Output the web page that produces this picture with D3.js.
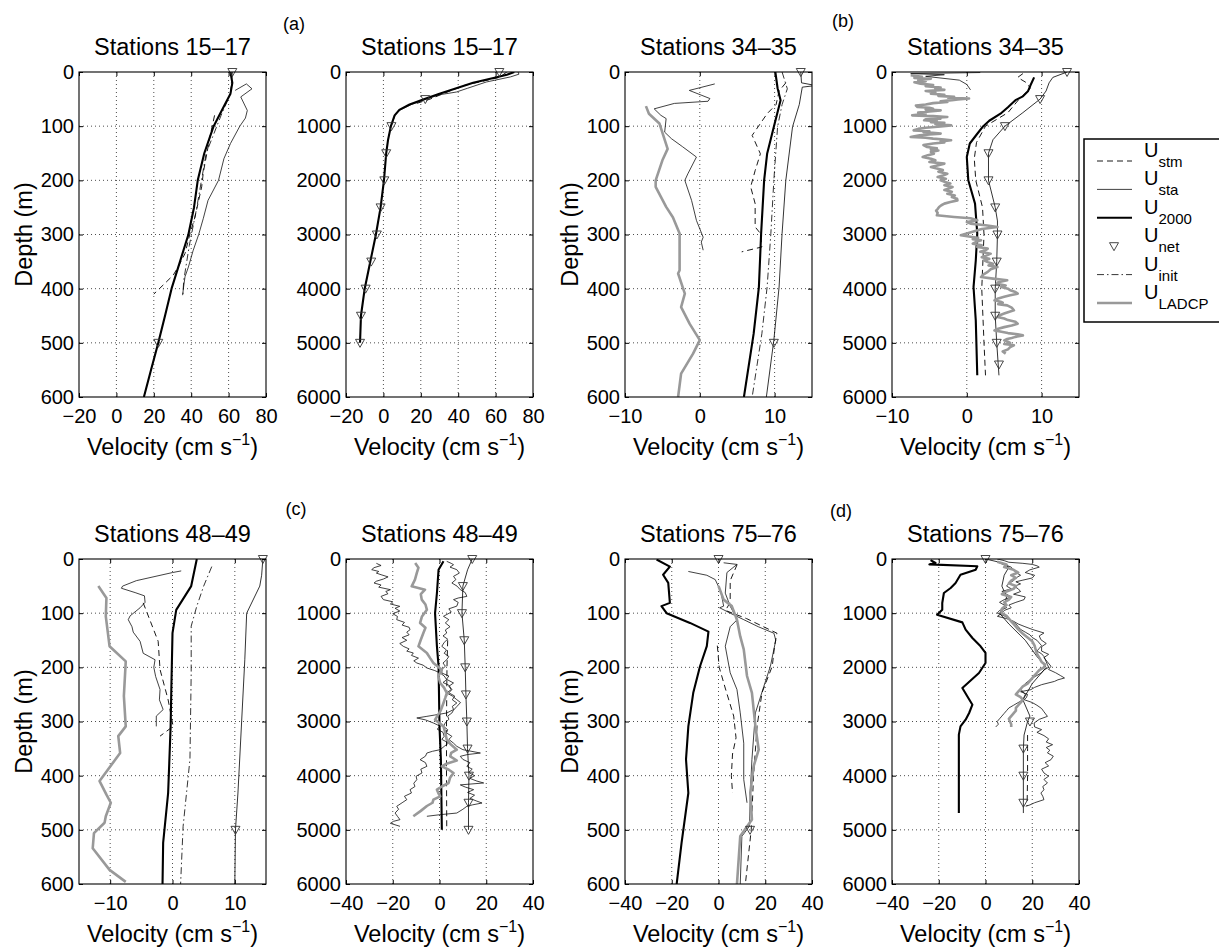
<!DOCTYPE html>
<html>
<head>
<meta charset="utf-8">
<script src="https://cdn.jsdelivr.net/npm/d3@7"></script>
<style>
  body { margin: 0; background: #fff; }
  svg { font-family: "Liberation Sans", Arial, Helvetica, sans-serif; }
</style>
</head>
<body>
<svg id="chart" width="1219" height="947"></svg>
<script>
// All profiles are [depth (m), velocity (cm/s)]

// (a) Stations 15-17, upper 600 m
const a1Sta = [[34,63.5],[22,69.5],[31,72.5],[46,66.5],[71,70],[85,69],[100,66],[132,61],[160,57.5],[200,54.6],[237,49],[270,46.5],[300,44],[330,41],[360,38.5],[378,36.7],[395,36],[412,35.4]];
const a1Stm = [[80,52.5],[120,50],[185,46.5],[212,45.6],[268,42],[298,39.4],[335,36.7],[360,33],[375,30.4],[390,26],[400,23],[410,20]];
const a1Init = [[0,62],[40,61],[80,56],[150,48],[250,43],[320,39],[385,36],[415,35.5]];
const a1U2000 = [[0,61],[20,62],[40,61],[60,58],[100,52],[150,47],[200,43.5],[250,41.5],[300,38.5],[350,34],[400,29.5],[450,26],[500,22.4],[550,18.5],[600,14.7]];
const a1Net = [[0,62],[500,22.4]];

// (a) Stations 15-17, full depth
const a2Sta = [[0,72],[40,72.5],[90,68],[185,55],[300,45],[370,39],[420,30],[500,23],[600,15],[700,9],[800,6.2],[1000,4.2]];
const a2Stm = [[0,66],[100,62],[250,43],[400,32],[500,25],[600,16]];
const a2U2000 = [[0,70],[50,66],[100,60],[200,48],[300,39],[400,30],[500,22],[600,14],[700,8.5],[800,6],[900,5],[1000,4],[1250,2.5],[1500,1.5],[2000,0.3],[2500,-1.5],[3000,-4],[3500,-7],[4000,-10],[4500,-12],[5000,-12.5]];
const a2Net = [[0,62],[500,22.4],[1000,4.3],[1500,1.5],[2000,0.5],[2500,-1.5],[3000,-3.5],[3500,-6.5],[4000,-9.5],[4500,-12],[5000,-12.5]];

// (b) Stations 34-35, upper 600 m
const b1Ladcp = [[63,-7.2],[77,-6.8],[95,-5.4],[142,-4.3],[163,-5],[200,-5.9],[212,-5.9],[249,-4.5],[268,-3.6],[298,-2.7],[366,-2.7],[372,-2.9],[409,-2],[434,-2.5],[465,-1.35],[495,0],[520,-0.9],[557,-2.5],[600,-2.9]];
const b1Sta = [[22,2],[34,-1.4],[49,1.35],[54,1.1],[58,-3.4],[68,-6.1],[80,-5.2],[86,-4.5],[111,-4.7],[123,-3.8],[138,-2.3],[157,-0.45],[188,-1.6],[200,-2],[237,-1.1],[274,-0.45],[305,0.45],[314,0.2],[329,0.45]];
const b1Stm = [[20,11.5],[35,10.6],[60,10.2],[77,9],[117,7],[151,8.1],[182,7.4],[212,6.8],[243,7.4],[286,7.4],[298,8.1],[323,8.3],[332,5.6]];
const b1Init = [[0,11],[31,11.7],[60,11],[101,10.4],[200,9.9],[298,9.5],[397,9],[483,8.3],[600,7]];
const b1U2000 = [[0,10.1],[30,10.4],[52,10.8],[101,9.9],[151,9],[200,8.6],[298,8.2],[397,7.9],[483,7.2],[600,5.9]];
const b1NetLine = [[0,13.5],[20,13.6],[25,15.5],[28,13.7],[60,13.3],[101,12.4],[200,11.5],[298,11],[397,10.6],[495,9.9],[600,8.9]];
const b1Net = [[0,13.5],[500,9.9]];

// (b) Stations 34-35, full depth
const b2Ladcp = [[60,-7.5],[90,-6],[110,-7],[123,-4.8],[150,-6.5],[170,-5.5],[190,-7],[215,-6.2],[240,-4.5],[260,-5.5],[285,-3.5],[308,-4.2],[330,-3],[350,-5.5],[375,-4.2],[400,-4.8],[420,-3],[440,-3.8],[460,-1.7],[475,-2.5],[490,0.3],[505,-1.2],[520,-2],[540,-3.5],[554,-2.6],[575,-4.5],[600,-5.5],[620,-6.8],[646,-6.6],[660,-5],[680,-4.5],[695,-5.5],[708,-3.5],[730,-5],[750,-6.5],[770,-5.5],[800,-7.3],[815,-4.5],[830,-2.6],[845,-4],[860,-3.5],[875,-5.5],[892,-5.7],[910,-4],[925,-4.8],[940,-3],[960,-4.2],[985,-2.1],[1005,-3.5],[1030,-5.5],[1050,-6.5],[1077,-7.1],[1095,-5],[1110,-5.8],[1125,-4.2],[1138,-3.5],[1155,-5],[1170,-6.3],[1185,-7],[1200,-7.5],[1215,-5.5],[1230,-4.5],[1245,-3],[1261,-2.1],[1280,-3.5],[1300,-3],[1320,-4.5],[1350,-5.8],[1385,-5.3],[1410,-4],[1430,-4.8],[1450,-3.8],[1475,-4.8],[1508,-4.4],[1535,-5.2],[1570,-5.9],[1600,-4.8],[1630,-4.2],[1660,-5],[1692,-3],[1720,-3.8],[1754,-4.8],[1780,-4],[1810,-3.2],[1840,-3.8],[1877,-2.6],[1910,-3.2],[1940,-3.9],[1970,-2.8],[2000,-3.5],[2030,-2.9],[2060,-2.2],[2090,-3],[2123,-1.9],[2150,-2.4],[2180,-3],[2210,-2],[2246,-2.6],[2280,-1.6],[2310,-2],[2340,-1.3],[2370,-1.25],[2400,-2.2],[2430,-3],[2460,-3.4],[2492,-3.7],[2530,-3.9],[2560,-4.1],[2600,-3.9],[2646,-4],[2677,-1.7],[2700,0.5],[2738,1.4],[2770,0],[2800,0.5],[2830,2.5],[2862,4.1],[2900,2],[2940,1],[2980,0],[3015,-0.8],[3040,0.5],[3060,1.5],[3085,0.8],[3108,1.9],[3140,1.2],[3170,0.8],[3200,2],[3230,1.4],[3260,2.8],[3290,2.5],[3320,1.8],[3354,3.2],[3390,2.6],[3420,2],[3450,3],[3477,2.3],[3510,2.8],[3540,3.5],[3570,2.9],[3600,4.1],[3640,3.2],[3690,2.8],[3740,2.2],[3785,1.9],[3815,3.5],[3846,5.4],[3880,4.2],[3910,4],[3940,5.2],[3970,4.6],[4000,5.5],[4030,5.8],[4060,6.5],[4092,6.8],[4120,5.8],[4150,5],[4180,4.2],[4215,3.7],[4240,4.5],[4260,4.8],[4285,4.2],[4308,5.4],[4350,6],[4400,6.3],[4430,5.6],[4460,5],[4490,4.4],[4523,4.1],[4550,5],[4580,5.5],[4610,6.5],[4646,6.8],[4680,6],[4710,5],[4740,4.2],[4770,3.7],[4800,4.8],[4820,5.5],[4840,6.8],[4862,7.5],[4890,6.5],[4910,6],[4930,5.4],[4954,5],[4980,5.5],[5000,5.8],[5020,5],[5046,6.3],[5080,5.8],[5120,5.5],[5160,4.8],[5200,5.2]];
const b2Sta = [[10,1.8],[30,-7.5],[50,-3],[80,-5.5],[150,-1],[230,0],[330,0.5]];
const b2Stm = [[30,7.5],[100,6.8],[200,8],[300,8.5],[500,7],[750,5.5],[1000,2.5],[1300,1.3],[1600,1],[2000,1.2],[2500,2.1],[3000,2.3],[4000,2],[5000,2.3],[5600,2.5]];
const b2U2000 = [[100,9],[250,8.5],[350,8.2],[450,7.5],[520,6.5],[650,5.5],[770,4.5],[900,3],[1000,2.2],[1140,1.4],[1320,0.4],[1570,0],[2000,0.2],[2430,1.1],[2985,1.4],[3480,1.2],[3970,0.9],[4585,1.2],[5600,1.4]];
const b2NetLine = [[0,13.4],[100,11.5],[200,11],[350,10.6],[500,9.8],[750,7.5],[1000,5.1],[1250,3.5],[1500,2.9],[2000,2.9],[2500,3.8],[2750,4.1],[3000,4.1],[3500,4],[4000,3.8],[4500,3.8],[5000,4],[5600,4.3]];
const b2Net = [[0,13.4],[500,9.8],[1000,5.1],[1500,2.9],[2000,2.9],[2500,3.8],[3000,4.1],[3500,4],[4000,3.8],[4500,3.8],[5000,4],[5400,4.3]];

// (c) Stations 48-49, upper 600 m
const c1Ladcp = [[50,-11.9],[72,-10.6],[106,-10.7],[161,-10.1],[189,-7.5],[253,-7.8],[309,-7.5],[327,-8.7],[358,-8.4],[410,-11.7],[435,-10.6],[450,-9.9],[475,-10.7],[487,-10.9],[506,-12.6],[534,-12.8],[574,-10.1],[596,-7.5]];
const c1Sta = [[22,1.4],[25,0],[40,-5.8],[50,-8],[54,-8.2],[62,-6],[68,-4.5],[80,-4.4],[90,-5.2],[105,-6.8],[112,-7.1],[125,-6.5],[135,-6.3],[152,-5.2],[174,-4.7],[186,-2.8],[200,-3],[217,-2.7],[241,-2],[260,-2.1],[278,-1.5],[290,-2.6],[309,-2.6]];
const c1Stm = [[81,-4.7],[152,-2.3],[204,-2],[260,-0.7],[309,0.1],[327,-2]];
const c1Init = [[14,6.3],[50,5],[87,3.9],[124,3],[210,3],[370,2.8],[494,1.7],[600,1.3]];
const c1U2000 = [[0,3.9],[50,3],[94,0.6],[137,0],[247,-0.2],[309,-0.3],[432,-0.7],[524,-1.5],[600,-1.6]];
const c1NetLine = [[0,14.5],[30,14.3],[50,14],[100,11.9],[186,11.6],[432,10.5],[500,10.1],[600,10]];
const c1Net = [[0,14.5],[500,10.1]];

// (c) Stations 48-49, full depth
const c2Ladcp = [[74,-10.4],[160,-9],[258,-9.7],[380,-10.5],[505,-11.9],[566,-6.2],[650,-8],[750,-7.6],[840,-6],[935,-5.4],[1060,-7.5],[1180,-8.3],[1270,-6],[1366,-6.9],[1490,-8],[1612,-9],[1680,-7],[1735,-5.4],[1830,-4],[1920,-2.6],[2043,1],[2160,-0.5],[2289,0.3],[2380,2],[2474,3.1],[2560,2.5],[2658,1.7],[2800,0.5],[2966,-1.9],[3030,0],[3090,1.7],[3210,2.5],[3335,3.1],[3430,5],[3520,7.4],[3580,5],[3643,4.6],[3720,7.4],[3780,3],[3828,1],[3890,4],[3950,6],[4040,4.5],[4135,3.9],[4200,1],[4258,-1.1],[4320,-0.5],[4382,0.3],[4443,-2.6],[4500,-3],[4560,-5.4],[4650,-8],[4750,-11.2]];
const c2StaL = [[80,-27],[120,-25],[160,-28],[197,-29],[230,-26],[260,-27],[290,-25],[330,-22],[370,-24],[410,-27],[443,-28],[480,-25],[520,-26],[566,-21],[600,-23],[640,-22],[690,-25],[750,-24],[790,-20],[830,-21],[874,-17],[910,-19],[960,-17],[1010,-20],[1060,-18],[1120,-18.3],[1170,-15],[1220,-16],[1260,-13],[1305,-12.6],[1350,-14],[1400,-13],[1450,-16],[1500,-14],[1560,-17],[1612,-15.5],[1660,-13],[1700,-14],[1735,-11.2],[1780,-12],[1830,-9],[1880,-11],[1920,-9.7],[1960,-7],[2012,-5.4],[2060,-2],[2105,0.3],[2160,2],[2228,3.1],[2280,1.5],[2330,4],[2412,5.3],[2470,4],[2530,6.5],[2600,5.5],[2658,7.4],[2720,5.5],[2780,6],[2843,3.1],[2880,-2],[2905,-5.4],[2935,-9.7],[2970,-6],[3028,-2.6],[3060,-1],[3090,0.3],[3140,-1],[3200,1.5],[3274,2],[3330,1],[3397,3.9],[3460,2],[3520,0.3],[3550,-3],[3582,-5.4],[3640,-6],[3705,-8.3],[3760,-6],[3828,-5.4],[3880,-8],[3950,-7.5],[4010,-10],[4074,-9.7],[4140,-11],[4200,-10.5],[4258,-12.6],[4320,-12],[4380,-15],[4443,-14],[4500,-16],[4566,-18.3],[4620,-17.5],[4690,-19],[4750,-18],[4812,-16.9],[4843,-19.7],[4880,-21],[4935,-16.9]];
const c2StaR = [[43,3.1],[80,5],[105,6],[150,4.5],[197,7.4],[260,8.5],[320,6],[380,7],[443,5.3],[500,7.5],[566,8.9],[620,11],[690,11.7],[720,8],[750,6],[800,8],[870,7.4],[920,4],[980,5],[1058,1.7],[1120,4],[1180,2.5],[1250,4.5],[1310,2.5],[1366,3.1],[1420,1.5],[1480,3.5],[1540,2],[1612,1],[1680,3],[1740,2],[1800,4],[1858,3.1],[1920,1.5],[1980,2.5],[2040,1],[2105,1],[2160,4],[2220,3],[2289,6],[2350,4],[2410,5],[2474,3.1],[2530,5.5],[2597,7.4],[2650,9],[2720,7.5],[2790,6],[2843,5.3],[2900,3.5],[2960,4],[3020,2.5],[3090,1.7],[3150,3.5],[3210,3],[3274,5.3],[3330,4],[3400,6],[3458,7.4],[3520,10],[3582,17.5],[3610,12],[3643,8.9],[3700,10],[3760,13],[3828,11.7],[3880,14],[3940,12.5],[4000,15],[4050,13],[4100,16],[4135,18.9],[4170,8.9],[4210,11],[4258,14.6],[4310,12],[4360,15],[4420,13],[4470,16],[4505,18.2],[4540,14],[4566,11.7],[4620,10],[4690,7.4],[4720,0.3],[4750,-5.4]];
const c2Stm = [[1500,3.5],[2000,3.2],[3000,3],[4000,3],[5000,3.1]];
const c2U2000 = [[43,1.7],[197,-0.4],[628,-1.1],[1000,-1.9],[1612,-1.1],[1980,-0.4],[3090,0],[3705,0.6],[5000,1]];
const c2NetLine = [[0,14],[200,12],[500,10],[1000,9.6],[1500,10.6],[2000,11],[2500,11.3],[3000,11.7],[3500,12],[4000,12.6],[4500,12.4],[5000,12.4]];
const c2Net = [[0,14],[500,10],[1000,9.6],[1500,10.6],[2000,11],[2500,11.3],[3000,11.7],[3500,12],[4000,12.6],[4500,12.4],[5000,12.4]];

// (d) Stations 75-76, upper 600 m
const d1Ladcp = [[50,0],[75,2.2],[87,5.7],[112,7.9],[143,9.3],[167,10.8],[216,12.2],[247,14.3],[309,15.8],[352,17.2],[383,15],[432,13.6],[481,14.3],[512,9.3],[600,7.9]];
const d1Sta = [[7,2.2],[10,7.9],[25,3.6],[63,2.9],[87,5],[112,8],[125,5],[161,2.9],[210,5],[241,7.9],[284,9.3],[340,10.8],[407,10.8],[450,12.2]];
const d1StaB = [[23,-12.9],[30,-5],[38,-1.4],[60,1],[87,2.2],[90,0.5],[100,5],[112,10.8],[125,17],[137,23.7],[150,24.5],[198,22.2],[235,19.4],[284,15.8],[370,14.3],[432,13.6],[493,13.3],[512,10],[600,9.3]];
const d1Stm = [[10,8],[40,5],[80,5],[95,3],[110,12],[137,25],[160,24],[198,23],[247,18.6],[309,16.5],[400,15],[500,14],[600,11.5]];
const d1StmB = [[160,-0.5],[200,0.3],[240,3],[290,6.5],[330,7.5],[360,6],[400,5.5],[432,6]];
const d1U2000 = [[1,-26.5],[14,-20.8],[29,-23.7],[44,-21.5],[81,-20.8],[87,-24.4],[100,-22.2],[118,-12.2],[134,-4.3],[161,-5],[198,-7.9],[247,-10.8],[309,-12.9],[370,-13.9],[432,-12.9],[524,-15.8],[600,-17.9]];
const d1Net = [[0,0],[500,13.5]];

// (d) Stations 75-76, full depth
const d2Ladcp = [[50,5],[100,9],[150,8],[200,12],[250,14],[300,11],[350,13],[400,11],[450,10],[500,13],[550,12],[600,9],[650,7],[700,11],[750,10],[800,8],[850,9],[920,7],[1000,7],[1050,9],[1100,10],[1150,11],[1200,12],[1250,13],[1300,14],[1380,16],[1450,18],[1520,20],[1600,21],[1680,21.5],[1750,22],[1820,23],[1900,24],[1950,25.5],[2000,25],[2050,23],[2100,22],[2150,21],[2200,20],[2250,19],[2300,18],[2350,16],[2400,15],[2450,14],[2500,13],[2550,15],[2600,16],[2650,15],[2700,14],[2750,13],[2800,13],[2850,12],[2900,11],[2950,10],[3000,10.5],[3050,11],[3100,11]];
const d2Sta = [[0,5],[30,8],[60,10],[80,16],[100,20],[125,22],[150,23],[200,19],[250,17],[300,21],[350,20],[390,16],[420,13],[460,15],[505,12.2],[550,14],[600,15],[650,12],[700,17],[750,16.5],[800,13],[850,10],[900,11],[950,8],[1000,7],[1058,5.1],[1100,9],[1150,12],[1200,14],[1243,16.5],[1300,20],[1366,25],[1420,23],[1490,23.7],[1560,26],[1620,24],[1700,24],[1760,27],[1820,25],[1900,26.5],[1980,28],[2040,27],[2100,30],[2150,32],[2197,33.8],[2230,31],[2260,29.5],[2320,24],[2370,21],[2412,19.4],[2450,15],[2500,18],[2560,17.5],[2597,16.5],[2650,20],[2700,22],[2760,24],[2820,25],[2905,26.5],[2960,23],[3028,20.8],[3100,21],[3150,24],[3200,22],[3260,25],[3320,27],[3380,26],[3428,28.7],[3480,26],[3530,27.5],[3580,26.5],[3640,29],[3705,28],[3760,25.5],[3820,27],[3880,24],[3950,25],[4010,27],[4070,25],[4135,26.5],[4200,24.5],[4260,25],[4320,23.7],[4380,24.5],[4443,25],[4500,21],[4540,19],[4566,17.2]];
const d2StaB = [[100,8],[150,11],[200,12],[250,13],[300,15],[350,13],[400,12],[450,10],[500,9],[550,11],[600,7],[650,9],[700,11],[750,8],[800,6],[850,8],[900,9],[950,6],[1000,5],[1050,8],[1100,10],[1150,11],[1200,13],[1250,14],[1300,15],[1350,17],[1400,19],[1450,20],[1500,22],[1550,23],[1600,24],[1650,23],[1700,22],[1750,24],[1800,25],[1850,25.5],[1900,26],[1950,26.5],[2000,27],[2050,25],[2100,24],[2150,22],[2200,20],[2250,18.5],[2300,17],[2350,16],[2400,15],[2450,16],[2500,17],[2550,16.5],[2600,16],[2650,14],[2700,12],[2750,10],[2800,9],[2850,8],[2900,7],[2950,6],[3000,5],[3050,5.5],[3100,4.4]];
const d2Stm = [[3250,18],[3500,18],[4000,18],[4560,17.8]];
const d2U2000 = [[20,-23.5],[74,-21.4],[100,-24],[135,-3.5],[197,-4.2],[290,-10.7],[443,-12.8],[535,-14.9],[628,-17.8],[812,-18.5],[935,-18.5],[1028,-20.7],[1170,-9.9],[1305,-8.5],[1458,-5.6],[1612,-2.1],[1735,0],[1920,0],[2105,-2.8],[2382,-9.9],[2535,-7.8],[2690,-5.6],[2843,-7],[2966,-8.5],[3090,-10.7],[3243,-11.4],[4690,-11.4]];
const d2NetLine = [[0,0],[50,5],[150,10],[300,8],[500,7],[700,9],[900,8],[1000,6],[1200,10],[1500,17],[1800,22],[2000,26],[2300,20],[2600,16],[2900,19],[3000,18],[3250,16.5],[3500,16.2],[4000,16.2],[4500,16.2],[4690,16.2]];
const d2Net = [[0,0],[3000,19],[3500,16.2],[4000,16.2],[4500,16.2]];

// axes
const titles = ["Stations 15–17", "Stations 15–17", "Stations 34–35", "Stations 34–35",
                "Stations 48–49", "Stations 48–49", "Stations 75–76", "Stations 75–76"];
const letters = ["(a)", "(b)", "(c)", "(d)"];
const xTicksA = [-20, 0, 20, 40, 60, 80];
const xTicksB = [-10, 0, 10];
const xTicksC = [-40, -20, 0, 20, 40];
const yTicksShallow = [0, 100, 200, 300, 400, 500, 600];
const yTicksDeep = [0, 1000, 2000, 3000, 4000, 5000, 6000];
const legendKeys = ["stm", "sta", "u2000", "net", "init", "ladcp"];
const legendSubs = ["stm", "sta", "2000", "net", "init", "LADCP"];

const panels = [
  { xDomain: [-20, 80], xTicks: xTicksA, deep: false, marks: a1Net,
    series: [["sta", a1Sta], ["stm", a1Stm], ["init", a1Init], ["u2000", a1U2000]] },
  { xDomain: [-20, 80], xTicks: xTicksA, deep: true, marks: a2Net,
    series: [["sta", a2Sta], ["stm", a2Stm], ["u2000", a2U2000]] },
  { xDomain: [-10, 15], xTicks: xTicksB, deep: false, marks: b1Net,
    series: [["sta", b1Sta], ["stm", b1Stm], ["init", b1Init], ["net", b1NetLine], ["u2000", b1U2000], ["ladcp", b1Ladcp]] },
  { xDomain: [-10, 15], xTicks: xTicksB, deep: true, marks: b2Net,
    series: [["sta", b2Sta], ["stm", b2Stm], ["net", b2NetLine], ["u2000", b2U2000], ["ladcp", b2Ladcp]] },
  { xDomain: [-15, 15], xTicks: xTicksB, deep: false, marks: c1Net,
    series: [["sta", c1Sta], ["stm", c1Stm], ["init", c1Init], ["net", c1NetLine], ["u2000", c1U2000], ["ladcp", c1Ladcp]] },
  { xDomain: [-40, 40], xTicks: xTicksC, deep: true, marks: c2Net,
    series: [["sta", c2StaL], ["sta", c2StaR], ["stm", c2Stm], ["net", c2NetLine], ["u2000", c2U2000], ["ladcp", c2Ladcp]] },
  { xDomain: [-40, 40], xTicks: xTicksC, deep: false, marks: d1Net,
    series: [["sta", d1Sta], ["sta", d1StaB], ["stm", d1Stm], ["stm", d1StmB], ["u2000", d1U2000], ["ladcp", d1Ladcp]] },
  { xDomain: [-40, 40], xTicks: xTicksC, deep: true, marks: d2Net,
    series: [["sta", d2Sta], ["sta", d2StaB], ["stm", d2Stm], ["net", d2NetLine], ["u2000", d2U2000], ["ladcp", d2Ladcp]] }
];

const styles = {
  stm:   { stroke: "#000", width: 0.9, dash: "6,4" },
  sta:   { stroke: "#111", width: 0.8, dash: null },
  u2000: { stroke: "#000", width: 2.1, dash: null },
  net:   { stroke: "#000", width: 0.8, dash: null },
  init:  { stroke: "#000", width: 0.8, dash: "7,3,1.5,3" },
  ladcp: { stroke: "#999", width: 2.6, dash: null }
};

const svg = d3.select("#chart");
const colX = [79, 346, 625, 892], rowY = [72, 559];
const PW = 187, PH = 325;
const triangle = "M-4.5,-3.5L4.5,-3.5L0,4.5Z";

panels.forEach((p, i) => {
  const g = svg.append("g")
    .attr("transform", `translate(${colX[i % 4]},${rowY[Math.floor(i / 4)]})`);
  const x = d3.scaleLinear().domain(p.xDomain).range([0, PW]);
  const y = d3.scaleLinear().domain([0, p.deep ? 6000 : 600]).range([0, PH]);
  const yTicks = p.deep ? yTicksDeep : yTicksShallow;

  g.append("clipPath").attr("id", "clip" + i)
    .append("rect").attr("width", PW).attr("height", PH);

  // dotted grid
  g.append("g").selectAll("line")
    .data(p.xTicks.filter(t => t > p.xDomain[0] && t < p.xDomain[1]))
    .join("line")
    .attr("x1", d => x(d)).attr("x2", d => x(d))
    .attr("y1", 0).attr("y2", PH)
    .attr("stroke", "#000").attr("stroke-width", 0.7).attr("stroke-dasharray", "1,3");
  g.append("g").selectAll("line")
    .data(yTicks.slice(1, -1))
    .join("line")
    .attr("x1", 0).attr("x2", PW)
    .attr("y1", d => y(d)).attr("y2", d => y(d))
    .attr("stroke", "#000").attr("stroke-width", 0.7).attr("stroke-dasharray", "1,3");

  // profiles
  const line = d3.line().x(d => x(d[1])).y(d => y(d[0]));
  g.append("g").attr("clip-path", `url(#clip${i})`)
    .selectAll("path")
    .data(p.series)
    .join("path")
    .attr("d", d => line(d[1]))
    .attr("fill", "none")
    .attr("stroke", d => styles[d[0]].stroke)
    .attr("stroke-width", d => styles[d[0]].width)
    .attr("stroke-dasharray", d => styles[d[0]].dash)
    .attr("stroke-linejoin", "round");

  // U_net markers
  g.append("g").selectAll("path")
    .data(p.marks)
    .join("path")
    .attr("d", triangle)
    .attr("transform", d => `translate(${x(d[1])},${y(d[0])})`)
    .attr("fill", "none")
    .attr("stroke", "#333")
    .attr("stroke-width", 0.9);

  // axes, ticks inward on all four sides
  const fmt = d3.format("d");
  const bottom = g.append("g").attr("transform", `translate(0,${PH})`)
    .call(d3.axisBottom(x).tickValues(p.xTicks).tickSizeInner(-4).tickSizeOuter(0)
      .tickPadding(12).tickFormat(fmt));
  const left = g.append("g")
    .call(d3.axisLeft(y).tickValues(yTicks).tickSizeInner(-4).tickSizeOuter(0)
      .tickPadding(5).tickFormat(fmt));
  g.append("g")
    .call(d3.axisTop(x).tickValues(p.xTicks).tickSizeInner(-4).tickSizeOuter(0).tickFormat(""));
  g.append("g").attr("transform", `translate(${PW},0)`)
    .call(d3.axisRight(y).tickValues(yTicks).tickSizeInner(-4).tickSizeOuter(0).tickFormat(""));
  g.selectAll(".domain").remove();
  [bottom, left].forEach(a => a.attr("font-size", 20).attr("font-family", null));
  g.selectAll(".tick text").attr("fill", "#000");

  g.append("rect").attr("width", PW).attr("height", PH)
    .attr("fill", "none").attr("stroke", "#000").attr("stroke-width", 1.1);

  // labels
  g.append("text").attr("x", PW / 2).attr("y", -17)
    .attr("text-anchor", "middle").attr("font-size", 23.5)
    .text(titles[i]);

  const xl = g.append("text").attr("x", PW / 2).attr("y", PH + 58)
    .attr("text-anchor", "middle").attr("font-size", 23.5);
  xl.append("tspan").text("Velocity (cm s");
  xl.append("tspan").attr("font-size", 16).attr("dy", -10).text("−1");
  xl.append("tspan").attr("dy", 10).text(")");

  if (!p.deep) {
    g.append("text")
      .attr("transform", `translate(-47,${PH / 2}) rotate(-90)`)
      .attr("text-anchor", "middle").attr("font-size", 23.5)
      .text("Depth (m)");
  }
});

// panel letters
const letterPos = [[294, 30], [843, 27], [296, 515], [841, 517]];
svg.append("g").selectAll("text")
  .data(letters)
  .join("text")
  .attr("x", (d, i) => letterPos[i][0])
  .attr("y", (d, i) => letterPos[i][1])
  .attr("text-anchor", "middle").attr("font-size", 18)
  .text(d => d);

// legend
const lg = svg.append("g");
lg.append("rect").attr("x", 1084).attr("y", 139).attr("width", 150).attr("height", 183)
  .attr("fill", "#fff").attr("stroke", "#000").attr("stroke-width", 1.5);
const rowBase = d3.scaleLinear().domain([0, 5]).range([157, 299]);
legendKeys.forEach((k, j) => {
  const by = rowBase(j);
  const s = styles[k];
  if (k === "net") {
    lg.append("path").attr("d", triangle)
      .attr("transform", `translate(1114,${by + 4})`)
      .attr("fill", "none").attr("stroke", "#333").attr("stroke-width", 0.9);
  } else {
    lg.append("line").attr("x1", 1097).attr("x2", 1132).attr("y1", by + 4).attr("y2", by + 4)
      .attr("stroke", s.stroke).attr("stroke-width", s.width)
      .attr("stroke-dasharray", s.dash);
  }
  const t = lg.append("text").attr("x", 1144).attr("y", by).attr("font-size", 20);
  t.append("tspan").text("U");
  t.append("tspan").attr("font-size", 15).attr("dy", 10).text(legendSubs[j]);
});
</script>
</body>
</html>
